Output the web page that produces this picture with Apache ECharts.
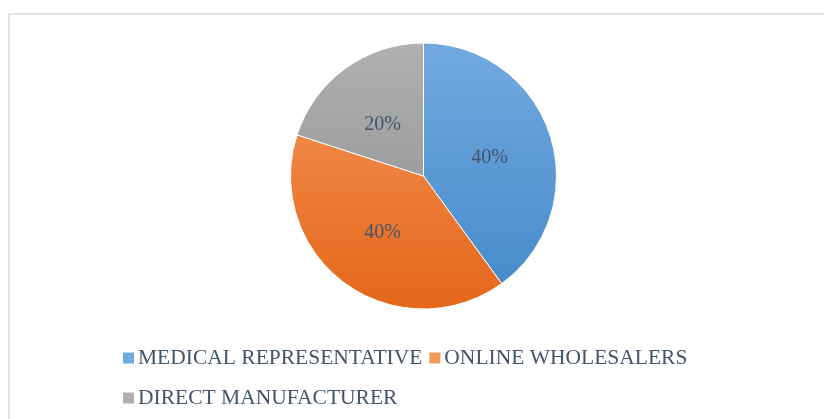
<!DOCTYPE html>
<html>
<head>
<meta charset="utf-8">
<script src="https://cdn.jsdelivr.net/npm/echarts@6/dist/echarts.min.js"></script>
<style>html,body{margin:0;padding:0;background:#fff;}#c{width:824px;height:419px;}</style>
</head>
<body>
<div id="c"></div>
<script>
const categories = ['MEDICAL REPRESENTATIVE', 'ONLINE WHOLESALERS', 'DIRECT MANUFACTURER'];
const values = [40, 40, 20];
const gradTop = ['#72aadf', '#f6985a', '#b0b0b0'];
const gradBottom = ['#4388ca', '#e4661a', '#8b8b8b'];
const labelOffsets = [[0, 3], [0, 1], [0, 5]];

const chart = echarts.init(document.getElementById('c'), null, {renderer: 'canvas'});
const font = "'Liberation Serif', 'Times New Roman', serif";
const textColor = '#44546A';

function grad(i) {
  return new echarts.graphic.LinearGradient(0, 43, 0, 309, [
    {offset: 0, color: gradTop[i]},
    {offset: 1, color: gradBottom[i]}
  ], true);
}

const legendBase = {
  orient: 'horizontal',
  itemWidth: 11,
  itemHeight: 11,
  itemGap: 7,
  icon: 'rect',
  left: 123,
  padding: 0,
  selectedMode: false,
  itemStyle: {borderWidth: 0},
  textStyle: {fontFamily: font, fontSize: 21.5, color: textColor, padding: [0, 0, 0, -1]}
};

chart.setOption({
  animation: false,
  backgroundColor: '#fff',
  graphic: [{
    type: 'rect',
    shape: {x: 9, y: 14, width: 900, height: 500},
    style: {fill: 'none', stroke: '#e0e4ea', lineWidth: 2},
    silent: true
  }],
  legend: [
    Object.assign({}, legendBase, {top: 347, data: categories.slice(0, 2)}),
    Object.assign({}, legendBase, {top: 387, data: categories.slice(2)})
  ],
  series: [{
    type: 'pie',
    center: [423.5, 176],
    radius: [0, 133],
    startAngle: 90,
    clockwise: true,
    label: {
      show: true,
      position: 'inside',
      formatter: p => p.value + '%',
      fontFamily: font,
      fontSize: 20,
      color: textColor
    },
    labelLine: {show: false},
    itemStyle: {borderColor: '#fff', borderWidth: 1},
    emphasis: {disabled: true},
    data: categories.map((n, i) => ({
      name: n, value: values[i],
      itemStyle: {color: grad(i)},
      label: {offset: labelOffsets[i]}
    }))
  }]
});
</script>
</body>
</html>
